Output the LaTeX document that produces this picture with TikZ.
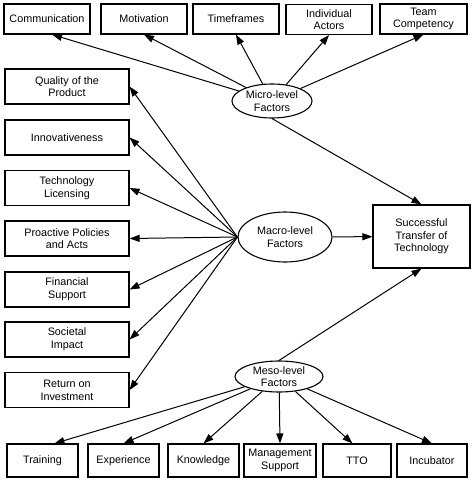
\documentclass[tikz,border=0pt]{standalone}
\usepackage{fontspec}
\setmainfont{Liberation Sans}
\usetikzlibrary{shapes.geometric,arrows.meta}
\begin{document}
\begin{tikzpicture}[x=1pt,y=-1pt]
\tikzstyle{every node}+=[inner sep=0pt,align=center,font=\fontsize{10.8}{12.7}\selectfont]
\tikzstyle{box}=[draw,line width=1.1pt,rectangle]
\tikzstyle{topbox}=[box,minimum width=86,minimum height=30]
\tikzstyle{leftbox}=[box,minimum width=124,minimum height=35]
\tikzstyle{lowbox}=[box,minimum width=71,minimum height=33]
\tikzstyle{factor}=[draw,line width=1.1pt,ellipse]
\tikzstyle{arr}=[line width=1pt,-{Triangle[length=10pt,width=7pt]}]
\useasboundingbox (0,0) rectangle (474,482);
\node [topbox] (comm) at (47,19) {Communication};
\node [topbox] (motiv) at (144,19) {Motivation};
\node [topbox] (time) at (236,19) {Timeframes};
\node [topbox] (actors) at (329,19.5) {Individual\\Actors};
\node [topbox,minimum width=87] (team) at (423.5,19) {Team\\Competency};
\node [factor,minimum width=80,minimum height=34] (micro) at (272,101) {Micro-level\\Factors};
\node [leftbox] (quality) at (67,86.5) {Quality of the\\Product};
\node [leftbox] (innov) at (67,137.5) {Innovativeness};
\node [leftbox] (licens) at (67,188) {Technology\\Licensing};
\node [leftbox] (policy) at (67,238.5) {Proactive Policies\\and Acts};
\node [leftbox] (finance) at (67,289.5) {Financial\\Support};
\node [leftbox] (society) at (67,339.5) {Societal\\Impact};
\node [leftbox] (invest) at (67,390) {Return on\\Investment};
\node [factor,minimum width=94,minimum height=50] (macro) at (285,237) {Macro-level\\Factors};
\node [box,minimum width=97,minimum height=63] (success) at (421.5,236.5) {Successful\\Transfer of\\Technology};
\node [factor,minimum width=88,minimum height=31] (meso) at (279,376.5) {Meso-level\\Factors};
\node [lowbox] (train) at (42.5,460.5) {Training};
\node [lowbox] (exper) at (123.5,460.5) {Experience};
\node [lowbox] (know) at (203.5,460.5) {Knowledge};
\node [lowbox,minimum width=72] (manage) at (280,460.5) {Management\\Support};
\node [lowbox,minimum width=68] (tto) at (357,460.5) {TTO};
\node [lowbox,minimum width=70] (incub) at (432,460.5) {Incubator};
\draw [arr] (micro) -- (comm.-72);
\draw [arr] (micro) -- (motiv.south);
\draw [arr] (micro) -- (time.south);
\draw [arr] (micro) -- (actors.south);
\draw [arr] (micro) -- (team.south);
\draw [arr] (micro.south) -- (success.north);
\foreach \b in {quality,innov,licens,policy,finance,society,invest}
  \draw [arr] (macro.west) -- (\b.east);
\draw [arr] (macro) -- (success);
\draw [arr] (meso.north) -- (success.south);
\draw [arr] (meso) -- (train.55);
\draw [arr] (meso) -- (exper.north);
\draw [arr] (meso) -- (know.north);
\draw [arr] (meso) -- (manage.north);
\draw [arr] (meso) -- (tto.105);
\draw [arr] (meso) -- (incub.north);
\end{tikzpicture}
\end{document}
